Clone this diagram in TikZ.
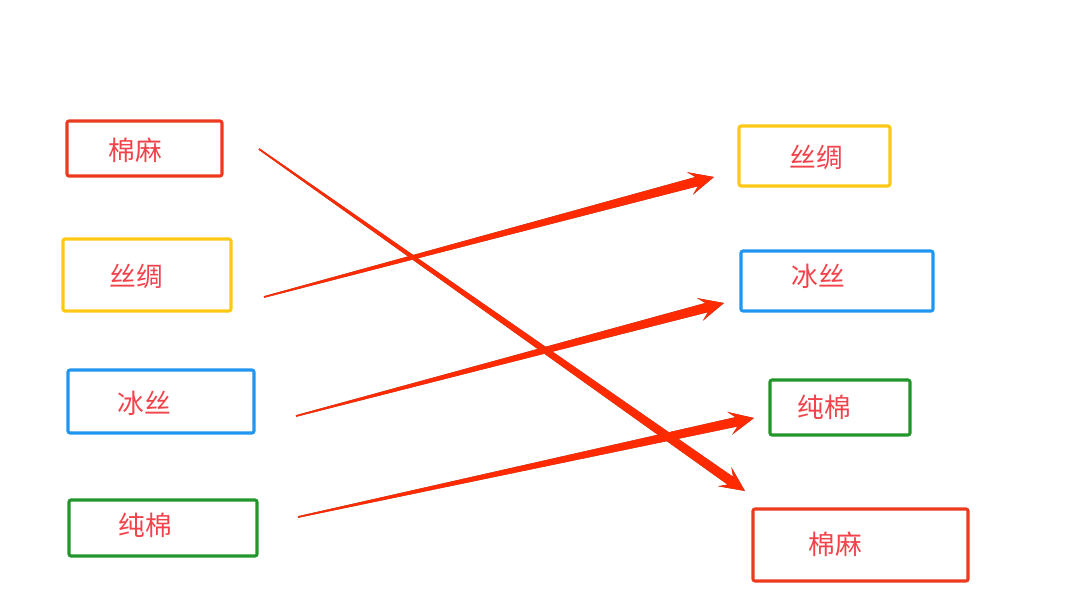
\documentclass[tikz,border=0pt]{standalone}
\usepackage{fontspec}
\newfontfamily\cjk{Noto Sans CJK SC}
\usetikzlibrary{calc}
\definecolor{boxred}{HTML}{EC3A1E}
\definecolor{boxyellow}{HTML}{FFC814}
\definecolor{boxblue}{HTML}{2196F0}
\definecolor{boxgreen}{HTML}{22962A}
\definecolor{txtred}{HTML}{F2424A}
\definecolor{arrowred}{HTML}{FF2A00}
\tikzstyle{box}=[draw,line width=2.2pt,rounded corners=1.5pt,fill=white,inner sep=0pt]
\tikzstyle{wordtext}=[font=\cjk\fontsize{19}{19}\selectfont,text=txtred,inner sep=0pt]
\tikzstyle{arrowfill}=[fill=arrowred]
\tikzstyle{arrowshade}=[fill=black!60]

% tapered arrow from #1 to #2
\newcommand{\taperarrow}[2]{%
    \coordinate (hb) at ($(#2)!0.62cm!(#1)$);
    \coordinate (hn) at ($(#2)!0.45cm!(#1)$);
    \fill[arrowshade,yshift=1.1pt] ($(#1)!0.02cm!90:(#2)$) -- ($(hn)!0.12cm!90:(#2)$) -- ($(hb)!0.29cm!90:(#2)$) -- (#2)
        -- ($(hb)!0.29cm!-90:(#2)$) -- ($(hn)!0.12cm!-90:(#2)$) -- ($(#1)!0.02cm!-90:(#2)$) -- cycle;
    \fill[arrowfill] ($(#1)!0.02cm!90:(#2)$) -- ($(hn)!0.12cm!90:(#2)$) -- ($(hb)!0.29cm!90:(#2)$) -- (#2)
        -- ($(hb)!0.29cm!-90:(#2)$) -- ($(hn)!0.12cm!-90:(#2)$) -- ($(#1)!0.02cm!-90:(#2)$) -- cycle;}

\begin{document}
\begin{tikzpicture}[x=0.025cm,y=-0.025cm]
    \useasboundingbox (0,0) rectangle (1070,608);

    % boxes on both sides
    \foreach \pos/\w/\h/\col/\name in {{(144.5,148.5)/3.875/1.375/boxred/l1},{(147,275)/4.2/1.8/boxyellow/l2},
        {(161,401.5)/4.65/1.575/boxblue/l3},{(163,528)/4.7/1.4/boxgreen/l4},
        {(814.5,156)/3.775/1.5/boxyellow/r1},{(837,281)/4.8/1.5/boxblue/r2},
        {(840,407.5)/3.5/1.375/boxgreen/r3},{(860.5,545)/5.375/1.8/boxred/r4}}
        \node[box,draw=\col,minimum width=\w cm,minimum height=\h cm] (\name) at \pos {};

    % words
    \foreach \pos/\name/\word in {{(135,150)/tl1/棉麻},{(136,276)/tl2/丝绸},{(144,403)/tl3/冰丝},{(145,525)/tl4/纯棉},
        {(816,157)/tr1/丝绸},{(818,276)/tr2/冰丝},{(824,407)/tr3/纯棉},{(835,544)/tr4/棉麻}}
        \node[wordtext] (\name) at \pos {\word};

    % arrow ends
    \foreach \pos/\name in {{259,149/s1},{745,491/e1},{264,297/s2},{714,177/e2},
        {296,416/s3},{724,303/e3},{298,517/s4},{754,418/e4}}
        \coordinate (\name) at (\pos);

    \taperarrow{s1}{e1}
    \taperarrow{s2}{e2}
    \taperarrow{s3}{e3}
    \taperarrow{s4}{e4}

\end{tikzpicture}
\end{document}
